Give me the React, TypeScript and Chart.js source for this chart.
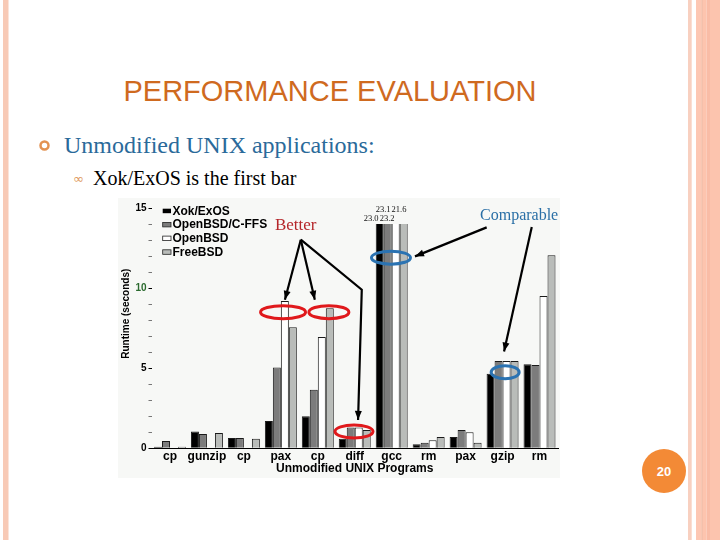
import React, { useEffect, useRef } from "react";
import { Chart, registerables } from "chart.js";

Chart.register(...registerables);

const programs = ["cp", "gunzip", "cp", "pax", "cp", "diff", "gcc", "rm", "pax", "gzip", "rm"];
const xokExos = [0.1, 1.05, 0.65, 1.7, 2.0, 0.6, 23.0, 0.25, 0.7, 4.65, 5.25];
const openbsdCffs = [0.45, 0.9, 0.65, 5.05, 3.65, 1.3, 23.1, 0.35, 1.15, 5.45, 5.2];
const openbsd = [null, null, null, 9.2, 6.95, 1.3, 23.2, 0.5, 1.0, 5.45, 9.5];
const freebsd = [0.1, 0.95, 0.6, 7.55, 8.75, 1.15, 21.6, 0.7, 0.35, 5.45, 12.05];
const seriesNames = ["Xok/ExOS", "OpenBSD/C-FFS", "OpenBSD", "FreeBSD"];
const seriesColors = ["#000000", "#7c7c7c", "#ffffff", "#b9bcb9"];
const yMax = 15;

const SANS = "'Liberation Sans', Arial, sans-serif";
const SERIF = "'Liberation Serif', 'Times New Roman', serif";

// hand-drawn notes on the slide, in (category index, seconds) units
const redRings = [
  { i: 3.06, v: 8.5, rx: 22.5, ry: 6.5 },
  { i: 4.3, v: 8.5, rx: 20, ry: 6.5 },
  { i: 4.98, v: 1.05, rx: 19, ry: 6.5 },
];
const blueRings = [
  { i: 5.98, v: 11.9, rx: 19.5, ry: 6.5 },
  { i: 9.07, v: 4.75, rx: 14, ry: 6.5 },
];
const arrows = [
  [[3.54, 13.02], [3.11, 9.27]],
  [[3.54, 13.02], [3.92, 9.27]],
  [[3.54, 13.02], [5.19, 9.9], [5.09, 1.77]],
  [[8.57, 13.79], [6.63, 11.98]],
  [[9.79, 13.81], [9.04, 6.04]],
];

const notesPlugin = {
  id: "slideNotes",
  afterDraw(chart: any) {
    const { ctx, chartArea: a, scales } = chart;
    const xs = scales.x;
    const ys = scales.y;
    const step = xs.getPixelForValue(1) - xs.getPixelForValue(0);
    const px = (i: number) => xs.getPixelForValue(0) + i * step;
    const py = (v: number) => ys.getPixelForValue(v);
    ctx.save();

    // legend inside the plot
    seriesNames.forEach((name, k) => {
      const cy = a.top + 2.7 + k * 13.7;
      ctx.fillStyle = seriesColors[k];
      ctx.fillRect(a.left + 11.2, cy - 2, 8.3, 4.5);
      if (k > 0) {
        ctx.strokeStyle = "#222";
        ctx.lineWidth = 0.8;
        ctx.strokeRect(a.left + 11.2, cy - 2, 8.3, 4.5);
      }
      ctx.fillStyle = "#000";
      ctx.font = `bold 12px ${SANS}`;
      ctx.textAlign = "left";
      ctx.textBaseline = "middle";
      ctx.fillText(name, a.left + 21, cy + 0.5);
    });

    // y title
    ctx.save();
    ctx.translate(a.left - 24.8, py(8.4));
    ctx.rotate(-Math.PI / 2);
    ctx.font = `bold 10px ${SANS}`;
    ctx.textAlign = "center";
    ctx.textBaseline = "middle";
    ctx.fillStyle = "#000";
    ctx.fillText("Runtime (seconds)", 0, 0);
    ctx.restore();

    // values of bars cut off at the top
    ctx.font = `8.5px ${SERIF}`;
    ctx.textAlign = "right";
    ctx.textBaseline = "alphabetic";
    ctx.fillStyle = "#111";
    chart.data.datasets.forEach((ds: any, k: number) => {
      const meta = chart.getDatasetMeta(k);
      ds.data.forEach((v: number | null, j: number) => {
        if (v != null && v > yMax) {
          const bar = meta.data[j];
          const lower = k % 2 === 0;
          const by = lower ? a.top + 12.7 : a.top + 3.5;
          ctx.fillText(v.toFixed(1), bar.x + (lower ? -1.2 : 2.8), by);
        }
      });
    });

    // rings
    ctx.lineWidth = 3;
    ctx.strokeStyle = "#e0191c";
    redRings.forEach((r) => {
      ctx.beginPath();
      ctx.ellipse(px(r.i), py(r.v), r.rx, r.ry, 0, 0, Math.PI * 2);
      ctx.stroke();
    });
    ctx.strokeStyle = "#2b73b2";
    blueRings.forEach((r) => {
      ctx.beginPath();
      ctx.ellipse(px(r.i), py(r.v), r.rx, r.ry, 0, 0, Math.PI * 2);
      ctx.stroke();
    });

    // arrows
    ctx.strokeStyle = "#000";
    ctx.fillStyle = "#000";
    ctx.lineWidth = 2.2;
    arrows.forEach((pts) => {
      const p = pts.map(([i, v]) => [px(i), py(v)]);
      ctx.beginPath();
      ctx.moveTo(p[0][0], p[0][1]);
      for (let n = 1; n < p.length; n++) ctx.lineTo(p[n][0], p[n][1]);
      ctx.stroke();
      const [x1, y1] = p[p.length - 2];
      const [x2, y2] = p[p.length - 1];
      const ang = Math.atan2(y2 - y1, x2 - x1);
      ctx.beginPath();
      ctx.moveTo(x2, y2);
      ctx.lineTo(x2 - 9 * Math.cos(ang) + 3.5 * Math.sin(ang), y2 - 9 * Math.sin(ang) - 3.5 * Math.cos(ang));
      ctx.lineTo(x2 - 9 * Math.cos(ang) - 3.5 * Math.sin(ang), y2 - 9 * Math.sin(ang) + 3.5 * Math.cos(ang));
      ctx.closePath();
      ctx.fill();
    });

    ctx.textAlign = "left";
    ctx.font = `17px ${SERIF}`;
    ctx.fillStyle = "#b5262a";
    ctx.fillText("Better", px(2.84), py(13.65));
    ctx.font = `16px ${SERIF}`;
    ctx.fillStyle = "#2a6fa6";
    ctx.fillText("Comparable", px(8.39), py(14.27));

    ctx.restore();
  },
};

const RuntimeChart: React.FC = () => {
  const canvasRef = useRef<HTMLCanvasElement | null>(null);

  useEffect(() => {
    if (!canvasRef.current) return;
    const series = [xokExos, openbsdCffs, openbsd, freebsd];
    const chart = new Chart(canvasRef.current, {
      type: "bar",
      data: {
        labels: programs,
        datasets: series.map((values, k) => ({
          label: seriesNames[k],
          data: values,
          backgroundColor: seriesColors[k],
          borderColor: "#1a1a1a",
          borderWidth: 1,
          categoryPercentage: 0.865,
          barPercentage: 1,
          clip: { left: 0, top: -16, right: 0, bottom: 0 },
        })),
      },
      options: {
        animation: false,
        responsive: false,
        maintainAspectRatio: false,
        layout: { padding: { top: 10, right: 2, left: 0, bottom: 0 } },
        plugins: { legend: { display: false }, tooltip: { enabled: false } },
        scales: {
          x: {
            grid: { display: false, drawTicks: false },
            border: { display: true, color: "#000", width: 1 },
            ticks: {
              color: "#000",
              font: { family: SANS, size: 12, weight: "bold" },
              padding: 1,
              maxRotation: 0,
              autoSkip: false,
            },
            title: {
              display: true,
              text: "Unmodified UNIX Programs",
              color: "#000",
              font: { family: SANS, size: 12, weight: "bold" },
              padding: { top: 0, bottom: 2 },
            },
            afterFit: (s: any) => {
              s.height = 29.7;
            },
          },
          y: {
            min: 0,
            max: yMax,
            border: { display: false },
            grid: {
              display: true,
              drawOnChartArea: false,
              drawTicks: true,
              tickLength: 3,
              tickColor: (c: any) => (c.tick && c.tick.value % 5 === 0 ? "#000" : "#777"),
            },
            ticks: {
              stepSize: 1,
              padding: 2,
              autoSkip: false,
              callback: (v: any) => (Number(v) % 5 === 0 ? String(v) : ""),
              color: (c: any) => (c.tick && c.tick.value === 10 ? "#2a6a2e" : "#000"),
              font: { family: SANS, size: 10, weight: "bold" },
            },
            afterFit: (s: any) => {
              s.width = 33.5;
            },
          },
        },
      },
      plugins: [notesPlugin],
    } as any);
    return () => {
      chart.destroy();
    };
  }, []);

  return (
    <canvas
      ref={canvasRef}
      width={442}
      height={280}
      style={{ position: "absolute", left: 118, top: 198, width: 442, height: 280, background: "#f7f8f6" }}
    />
  );
};

export default function App() {
  return (
    <div style={{ position: "fixed", left: 0, top: 0, width: 720, height: 540, background: "#fff", overflow: "hidden" }}>
      <svg width={720} height={540} style={{ position: "absolute", left: 0, top: 0 }}>
        <rect x={3} y={0} width={5.5} height={540} fill="#f8cab6" />
        <rect x={688} y={0} width={3.7} height={540} fill="#f8d0c0" />
        <rect x={696} y={0} width={5.7} height={540} fill="#fdc7b3" />
        <rect x={701.7} y={0} width={1} height={540} fill="#e9a283" />
        <rect x={702.7} y={0} width={4} height={540} fill="#fdc4ae" />
        <rect x={706.7} y={0} width={3.3} height={540} fill="#f9bca6" />
        <rect x={710} y={0} width={10} height={540} fill="#fcc4ae" />
        <text x={330} y={101} textAnchor="middle" fontFamily={SANS} fontSize={29} fill="#cf6a1f">
          PERFORMANCE EVALUATION
        </text>
        <circle cx={44.5} cy={145.5} r={4} fill="none" stroke="#e39252" strokeWidth={2.5} />
        <text x={64} y={153} fontFamily={SERIF} fontSize={24} fill="#2a6a9a">
          Unmodified UNIX applications:
        </text>
        <text x={73} y={183} fontFamily="'DejaVu Sans', sans-serif" fontSize={13} fill="#e09a60">
          ∞
        </text>
        <text x={93} y={185} fontFamily={SERIF} fontSize={20} fill="#000">
          Xok/ExOS is the first bar
        </text>
        <circle cx={664} cy={471} r={22} fill="#f38a36" />
        <text x={664} y={475.5} textAnchor="middle" fontFamily={SANS} fontSize={13} fontWeight="bold" fill="#fff">
          20
        </text>
      </svg>
      <RuntimeChart />
    </div>
  );
}
